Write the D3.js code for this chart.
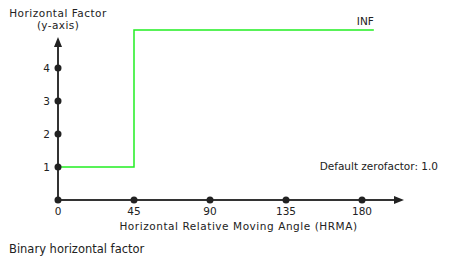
<!DOCTYPE html>
<html>
<head>
<meta charset="utf-8">
<script src="https://cdn.jsdelivr.net/npm/d3@7"></script>
<style>
  body { margin: 0; background: #fff; }
  text { font-family: "DejaVu Sans", Verdana, sans-serif; fill: #222; }
</style>
</head>
<body>
<svg></svg>
<script>
const width = 461,
    height = 272;

const svg = d3.select("svg")
    .attr("width", width)
    .attr("height", height);

// data
const xTicks = [0, 45, 90, 135, 180];
const yTicks = [0, 1, 2, 3, 4];
const angles = [0, 45, 45, 187];
const factors = [1, 1, "INF", "INF"];
const infLevel = 5.15; // where INF is drawn

const x = d3.scaleLinear().domain([0, 180]).range([58, 362]);
const y = d3.scaleLinear().domain([0, 4]).range([200, 68]);

const fy = v => v === "INF" ? y(infLevel) : y(v);

// axes
svg.append("line")
    .attr("x1", x(0)).attr("x2", x(0))
    .attr("y1", y(0)).attr("y2", 46)
    .attr("stroke", "#333").attr("stroke-width", 2);
svg.append("path")
    .attr("d", `M${x(0)},37 L${x(0) - 4},47 L${x(0) + 4},47 Z`)
    .attr("fill", "#222");

svg.append("line")
    .attr("x1", x(0)).attr("x2", 395)
    .attr("y1", y(0)).attr("y2", y(0))
    .attr("stroke", "#333").attr("stroke-width", 2);
svg.append("path")
    .attr("d", `M404,${y(0)} L394,${y(0) - 4} L394,${y(0) + 4} Z`)
    .attr("fill", "#222");

// step line
const line = d3.line()
    .x((d, i) => x(angles[i]))
    .y((d, i) => fy(factors[i]));

svg.append("path")
    .datum(angles)
    .attr("d", line)
    .attr("fill", "none")
    .attr("stroke", "#22ee22")
    .attr("stroke-width", 1.5);

// tick dots and labels
svg.selectAll(".xdot")
    .data(xTicks)
    .join("circle")
    .attr("cx", d => x(d))
    .attr("cy", y(0))
    .attr("r", 3.5)
    .attr("fill", "#222");

svg.selectAll(".xlab")
    .data(xTicks)
    .join("text")
    .attr("x", d => x(d))
    .attr("y", 215)
    .attr("text-anchor", "middle")
    .attr("font-size", "10.5px")
    .text(d => d);

svg.selectAll(".ydot")
    .data(yTicks.slice(1))
    .join("circle")
    .attr("cx", x(0))
    .attr("cy", d => y(d))
    .attr("r", 3.5)
    .attr("fill", "#222");

svg.selectAll(".ylab")
    .data(yTicks.slice(1))
    .join("text")
    .attr("x", 50)
    .attr("y", d => y(d) + 4)
    .attr("text-anchor", "end")
    .attr("font-size", "10.5px")
    .text(d => d);

// titles
svg.append("text")
    .attr("x", x(0)).attr("y", 17)
    .attr("text-anchor", "middle")
    .attr("font-size", "10.5px")
    .attr("letter-spacing", "0.5px")
    .text("Horizontal Factor");
svg.append("text")
    .attr("x", x(0)).attr("y", 29)
    .attr("text-anchor", "middle")
    .attr("font-size", "10.5px")
    .attr("letter-spacing", "0.4px")
    .text("(y-axis)");

svg.append("text")
    .attr("x", 238.5).attr("y", 230)
    .attr("text-anchor", "middle")
    .attr("font-size", "10.5px")
    .attr("letter-spacing", "0.55px")
    .text("Horizontal Relative Moving Angle (HRMA)");

svg.append("text")
    .attr("x", x(187)).attr("y", 25)
    .attr("text-anchor", "end")
    .attr("font-size", "10.5px")
    .text("INF");

svg.append("text")
    .attr("x", 438).attr("y", 170)
    .attr("text-anchor", "end")
    .attr("font-size", "10.5px")
    .text("Default zerofactor: 1.0");

svg.append("text")
    .attr("x", 9).attr("y", 253)
    .attr("font-size", "11.5px")
    .text("Binary horizontal factor");
</script>
</body>
</html>
